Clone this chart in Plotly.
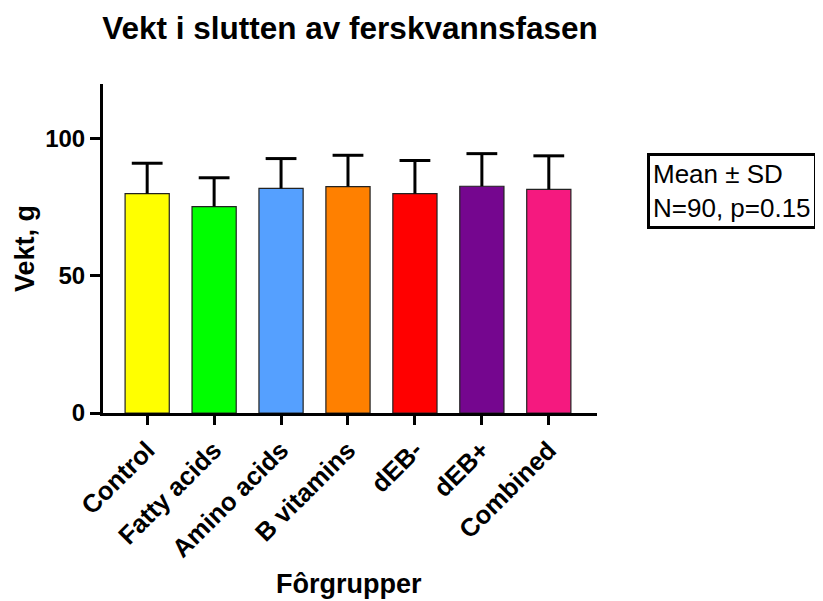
import plotly.graph_objects as go

# Feed groups and final freshwater weight (mean and SD, g)
groups = ["Control", "Fatty acids", "Amino acids", "B vitamins", "dEB-", "dEB+", "Combined"]
mean_weight = [80.0, 75.3, 81.9, 82.6, 80.0, 82.7, 81.6]
sd_weight = [11.1, 10.5, 10.9, 11.4, 12.1, 11.9, 12.2]
bar_colors = ["#FFFF00", "#00FF00", "#55A0FF", "#FF8000", "#FF0000", "#75068F", "#F5197F"]
y_ticks = [0, 50, 100]

FONT = "Liberation Sans, Arial, sans-serif"
OFF = 8  # page body margin in the browser
W, H = 823 - OFF, 601 - OFF

# plot area edges (page pixels)
left, right, top, bottom = 103, 597, 84, 413
pw, ph = right - left, bottom - top


def px_x(x):
    return (x - left) / pw


def px_y(y):
    return (bottom - y) / ph


fig = go.Figure()
fig.add_trace(go.Bar(
    x=groups, y=mean_weight,
    marker=dict(color=bar_colors, line=dict(color="#222222", width=1.2)),
    showlegend=False, hoverinfo="skip",
))

# upward-only SD bars: stem + cap
stem_x, stem_y = [], []
for g, m, s in zip(groups, mean_weight, sd_weight):
    stem_x += [g, g, None]
    stem_y += [m, m + s, None]
fig.add_trace(go.Scatter(x=stem_x, y=stem_y, mode="lines", line=dict(color="black", width=3),
                         showlegend=False, hoverinfo="skip"))
fig.add_trace(go.Scatter(x=groups, y=[m + s for m, s in zip(mean_weight, sd_weight)], mode="markers",
                         marker=dict(symbol="line-ew", size=22, line=dict(color="black", width=3)),
                         showlegend=False,
                         hovertemplate="%{x}<br>Mean+SD: %{y:.1f}<extra></extra>"))

fig.update_layout(
    width=W, height=H,
    margin=dict(l=left - OFF, r=W - (right - OFF), t=top - OFF, b=H - (bottom - OFF)),
    plot_bgcolor="white", paper_bgcolor="white",
    bargap=0.34,
    font=dict(family=FONT, color="black"),
    title=dict(text="<b>Vekt i slutten av ferskvannsfasen</b>", x=0.5, xref="paper", xanchor="center",
               y=1 - (28 - OFF) / H, yref="container", yanchor="middle",
               font=dict(size=31.5, family=FONT, color="black")),
)

fig.update_xaxes(
    range=[-0.66, 6.72], showline=True, linecolor="black", linewidth=3,
    ticks="outside", ticklen=9, tickwidth=3, tickcolor="black",
    tickangle=-45, tickfont=dict(size=25.5, family=FONT, color="black"),
    tickvals=groups, ticktext=["<b>%s</b>" % g for g in groups],
    showgrid=False, zeroline=False,
)
fig.update_yaxes(
    range=[0, 120], showline=True, linecolor="black", linewidth=3,
    ticks="outside", ticklen=10, tickwidth=3, tickcolor="black",
    tickvals=y_ticks, ticktext=["<b>%d</b>" % v for v in y_ticks],
    tickfont=dict(size=24, family=FONT, color="black"),
    showgrid=False, zeroline=False,
)

# Axis titles placed as annotations to match the original layout
fig.add_annotation(text="<b>Fôrgrupper</b>", xref="paper", yref="paper",
                   x=px_x(349), y=px_y(584), xanchor="center", yanchor="middle",
                   showarrow=False, font=dict(size=27, family=FONT, color="black"))
fig.add_annotation(text="<b>Vekt, g</b>", xref="paper", yref="paper", textangle=-90,
                   x=px_x(25), y=px_y(249), xanchor="center", yanchor="middle",
                   showarrow=False, font=dict(size=27, family=FONT, color="black"))

# Summary box
fig.add_annotation(text="Mean ± SD<br>N=90, p=0.15", xref="paper", yref="paper",
                   x=px_x(647), y=px_y(153), xanchor="left", yanchor="top",
                   align="left", showarrow=False, bordercolor="black", borderwidth=3, borderpad=3,
                   bgcolor="white", font=dict(size=26, family=FONT, color="black"))

fig.write_html("out.html")
